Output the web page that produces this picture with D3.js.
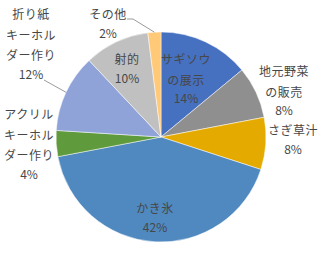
<!DOCTYPE html>
<html>
<head>
<meta charset="utf-8">
<script src="https://cdn.jsdelivr.net/npm/d3@7"></script>
<style>
  body { margin: 0; background: #fff; }
  text { font-family: "Noto Sans CJK JP", "Noto Sans", sans-serif; font-size: 12px; fill: #474747; }
</style>
</head>
<body>
<div id="chart"></div>
<script>
// data
var categories = ["サギソウの展示", "地元野菜の販売", "さぎ草汁", "かき氷",
    "アクリルキーホルダー作り", "折り紙キーホルダー作り", "射的", "その他"];
var values = [14, 8, 8, 42, 4, 12, 10, 2];
var labelLines = [["サギソウ", "の展示"], ["地元野菜", "の販売"], ["さぎ草汁"], ["かき氷"],
    ["アクリル", "キーホル", "ダー作り"], ["折り紙", "キーホル", "ダー作り"], ["射的"], ["その他"]];
var colorList = ["#4670c0", "#8f8f8f", "#e4aa00", "#5089c0", "#5f9a3c", "#8fa3d8", "#c0c0c0", "#ffc977"];

var svg_width = 323, svg_height = 273;
var svg = d3.select("#chart").append("svg")
    .attr("width", svg_width)
    .attr("height", svg_height);

var cx = 161, cy = 137, radius = 105;
var g = svg.append("g").attr("transform", "translate(" + cx + "," + cy + ")");

// label layout: centre of first line, relative to pie centre
var labelAt = [[25, -77], [123, -65], [132, -6], [-6, 72], [-132, -22], [-130, -122], [-34, -77], [-53, -122]];
var leader = [false, false, false, false, false, true, false, true];

var colors = d3.scaleOrdinal().domain(categories).range(colorList);

var pie = d3.pie().sort(null).value(function(d) { return d.value; });
var arc = d3.arc().innerRadius(0).outerRadius(radius);

var data = categories.map(function(c, i) { return {name: c, value: values[i], lines: labelLines[i], i: i}; });
var total = d3.sum(values);
var arcs = pie(data);

g.selectAll("path.slice")
    .data(arcs)
    .enter().append("path")
    .attr("class", "slice")
    .attr("d", arc)
    .attr("fill", function(d) { return colors(d.data.name); })
    .attr("stroke", "#fff")
    .attr("stroke-width", 0.5);

var labels = g.selectAll("g.label")
    .data(arcs)
    .enter().append("g")
    .attr("class", "label")
    .attr("transform", function(d) {
        var p = labelAt[d.data.i];
        return "translate(" + p[0] + "," + p[1] + ")";
    });

labels.each(function(d) {
    var sel = d3.select(this);
    var lines = d.data.lines.concat([Math.round(d.data.value / total * 100) + "%"]);
    lines.forEach(function(t, k) {
        var y = k < d.data.lines.length ? k * 20.5 : (k - 1) * 20.5 + 18.5;
        sel.append("text")
            .attr("x", 0)
            .attr("y", y)
            .attr("dy", "0.35em")
            .attr("text-anchor", "middle")
            .style("letter-spacing", t.indexOf("%") < 0 ? "0.5px" : "0")
            .text(t);
    });
});

// leader lines for the labels sitting outside their slice
g.selectAll("path.leader")
    .data(arcs.filter(function(d) { return leader[d.data.i]; }))
    .enter().append("path")
    .attr("class", "leader")
    .attr("fill", "none")
    .attr("stroke", "#808080")
    .attr("stroke-width", 0.8)
    .attr("d", function(d) {
        var a = (d.startAngle + d.endAngle) / 2;
        var ex = Math.sin(a) * radius, ey = -Math.cos(a) * radius;
        if (d.data.name === "その他") {
            return "M" + (-34) + "," + (-118) + "L" + (-28) + "," + (-118) + "L" + ex + "," + ey;
        }
        return "M" + (-117) + "," + (-57) + "L" + ex + "," + ey;
    });
</script>
</body>
</html>
